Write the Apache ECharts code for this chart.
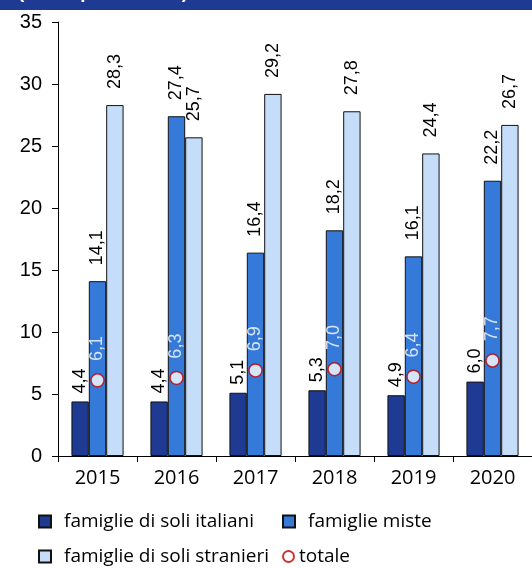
<!DOCTYPE html>
<html><head><meta charset="utf-8">
<script src="https://cdn.jsdelivr.net/npm/echarts@6/dist/echarts.min.js"></script>
<style>html,body{margin:0;padding:0;background:#fff}#c{width:532px;height:568px}</style>
</head><body><div id="c"></div>
<script>
const years = ['2015','2016','2017','2018','2019','2020'];
const italiani = [4.4, 4.4, 5.1, 5.3, 4.9, 6.0];
const miste = [14.1, 27.4, 16.4, 18.2, 16.1, 22.2];
const stranieri = [28.3, 25.7, 29.2, 27.8, 24.4, 26.7];
const totale = [6.1, 6.3, 6.9, 7.0, 6.4, 7.7];
const yTicks = [0, 5, 10, 15, 20, 25, 30, 35];

const fmt = p => p.value.toFixed(1).replace('.', ',');
const FONT = 'Liberation Sans';
const LFONT = 'Open Sans';
const mkLabel = (dist, color) => ({show:true, position:'top', rotate:90, align:'left', verticalAlign:'middle', distance:dist, color:color, fontSize:18, fontFamily:FONT, formatter:fmt});
const mkLegend = (name, left, top, icon, pad, size) => ({data:[name], left:left, top:top, padding:0, icon:icon,
  itemWidth:size, itemHeight:size, itemGap:0,
  textStyle:{fontSize:19, fontFamily:LFONT, color:'#000', padding:[0,0,0,pad]}});

const chart = echarts.init(document.getElementById('c'));
chart.setOption({
  animation:false,
  graphic:[
    {type:'rect', shape:{x:0,y:0,width:532,height:10}, style:{fill:'#1f3a93'}, z:10},
    {type:'text', x:18, y:-17, style:{text:'(valori percentuali)', fill:'#fff', font:'bold 19px "Liberation Sans"'}, z:11}
  ],
  grid:{left:58, right:-6, top:22, bottom:112},
  legend:[
    mkLegend('famiglie di soli italiani', 38, 512, 'rect', 8, 12),
    mkLegend('famiglie miste', 282, 512, 'rect', 8, 12),
    mkLegend('famiglie di soli stranieri', 38, 547, 'rect', 8, 12),
    mkLegend('totale', 282, 547, 'circle', 0, 11)
  ],
  xAxis:{type:'category', data:years, boundaryGap:true,
    axisLine:{lineStyle:{color:'#000', width:1}},
    axisTick:{show:true, length:6, lineStyle:{color:'#000'}},
    axisLabel:{fontSize:20, fontFamily:LFONT, color:'#000', margin:12}},
  yAxis:{type:'value', min:0, max:35, interval:5,
    axisLine:{show:true, lineStyle:{color:'#000'}},
    axisTick:{show:true, length:6, lineStyle:{color:'#000'}},
    splitLine:{show:false},
    axisLabel:{fontSize:20, fontFamily:FONT, color:'#000', margin:16, formatter:v => yTicks.includes(v) ? String(v) : ''}},
  series:[
    {name:'famiglie di soli italiani', type:'bar', data:italiani, barGap:'0%', barCategoryGap:'34%',
      itemStyle:{color:'#1f3a93', borderColor:'#111', borderWidth:1}, label:mkLabel(8, '#000')},
    {name:'famiglie miste', type:'bar', data:miste,
      itemStyle:{color:'#3579d9', borderColor:'#111', borderWidth:1}, label:mkLabel(16, '#000')},
    {name:'famiglie di soli stranieri', type:'bar', data:stranieri,
      itemStyle:{color:'#c6ddf9', borderColor:'#111', borderWidth:1}, label:mkLabel(16, '#000')},
    {name:'totale', type:'scatter', data:totale, symbol:'circle', symbolSize:13, z:5,
      itemStyle:{color:'#fff', borderColor:'#c00000', borderWidth:1.5},
      label:mkLabel(12, '#fff')}
  ]
});
</script></body></html>
